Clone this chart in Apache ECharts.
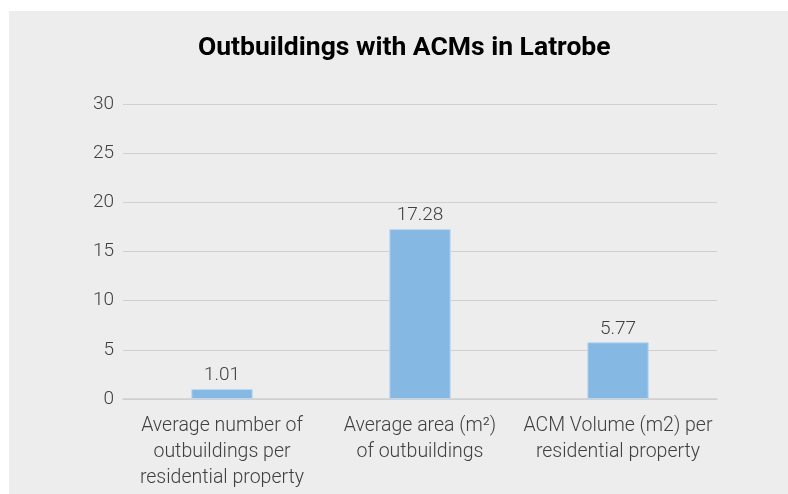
<!DOCTYPE html>
<html>
<head>
<meta charset="utf-8">
<script src="https://cdn.jsdelivr.net/npm/echarts@6/dist/echarts.min.js"></script>
<style>
    html, body { margin: 0; padding: 0; background: #ffffff; }
    #panel { position: absolute; left: 9px; top: 11px; width: 779px; height: 483px; background: #ededed; }
    #main { position: absolute; left: 0; top: 0; width: 788px; height: 494px; }
</style>
</head>
<body>
<div id="panel"></div>
<div id="main"></div>
<script>
    // data
    var categories = [
        'Average number of\noutbuildings per\nresidential property',
        'Average area (m²)\nof outbuildings',
        'ACM Volume (m2) per\nresidential property'
    ];
    var values = [1.01, 17.28, 5.77];
    var yTicks = [0, 5, 10, 15, 20, 25, 30];

    var chart = echarts.init(document.getElementById('main'));
    chart.setOption({
        backgroundColor: 'transparent',
        animation: false,
        textStyle: { fontFamily: 'Roboto' },
        title: {
            text: 'Outbuildings with ACMs in Latrobe',
            left: 193,
            top: 30,
            textStyle: { fontFamily: 'Roboto', fontWeight: 'bold', fontSize: 26.5, color: '#000' }
        },
        grid: { left: 123, right: 71, top: 104, bottom: 95 },
        xAxis: {
            type: 'category',
            data: categories,
            axisLine: { lineStyle: { color: '#d0d0d0', width: 1.5 } },
            axisTick: { show: false },
            axisLabel: {
                interval: 0,
                margin: 14,
                fontSize: 19.5,
                fontWeight: 300,
                lineHeight: 26,
                color: '#404040'
            }
        },
        yAxis: {
            type: 'value',
            min: yTicks[0],
            max: yTicks[yTicks.length - 1],
            interval: 5,
            axisLine: { show: false },
            axisTick: { show: false },
            splitLine: { lineStyle: { color: '#d0d0d0', width: 1 } },
            axisLabel: { fontSize: 19, fontWeight: 300, color: '#404040', margin: 9 }
        },
        series: [{
            type: 'bar',
            data: values,
            barWidth: '31%',
            itemStyle: { color: '#86b8e4', borderColor: '#bcd8f0', borderWidth: 1 },
            label: {
                show: true,
                position: 'top',
                distance: 4,
                fontSize: 19,
                fontWeight: 300,
                color: '#404040',
                formatter: function (p) { return p.value.toFixed(2); }
            }
        }]
    });
</script>
</body>
</html>
